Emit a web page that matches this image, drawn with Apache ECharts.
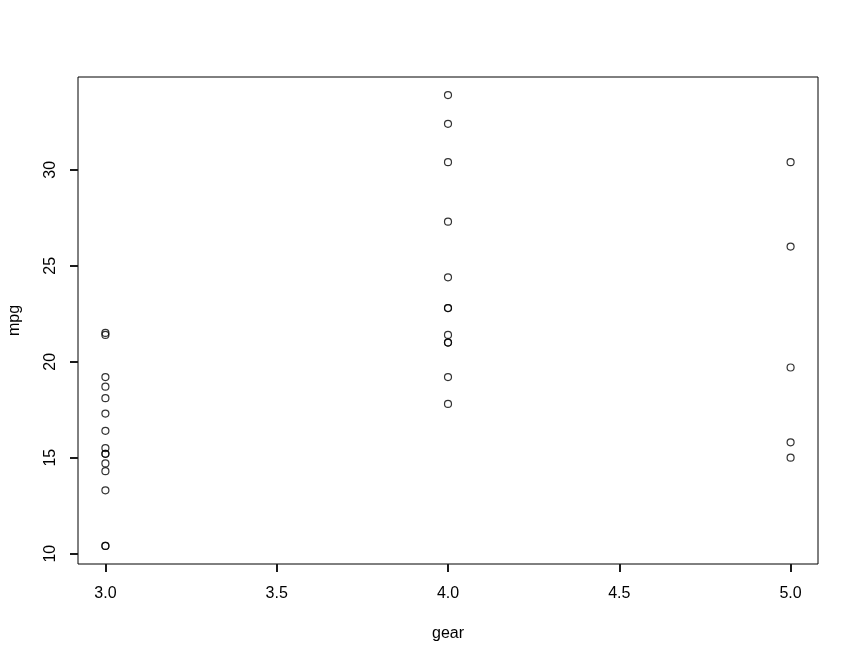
<!DOCTYPE html>
<html>
<head>
<meta charset="utf-8">
<script src="https://cdn.jsdelivr.net/npm/echarts@6/dist/echarts.min.js"></script>
<style>
  html, body { margin: 0; padding: 0; background: #fff; }
  #chart { width: 858px; height: 662px; }
</style>
</head>
<body>
<div id="chart"></div>
<script>
// mtcars: gear vs mpg
const gear = [4, 4, 4, 3, 3, 3, 3, 4, 4, 4, 4, 3, 3, 3, 3, 3, 3, 4, 4, 4, 3, 3, 3, 3, 3, 4, 5, 5, 5, 5, 5, 4];
const mpg = [21.0, 21.0, 22.8, 21.4, 18.7, 18.1, 14.3, 24.4, 22.8, 19.2, 17.8, 16.4, 17.3, 15.2, 10.4, 10.4,
    14.7, 32.4, 30.4, 33.9, 21.5, 15.5, 15.2, 13.3, 19.2, 27.3, 26.0, 30.4, 15.8, 19.7, 15.0, 21.4];
const xTicks = [3.0, 3.5, 4.0, 4.5, 5.0];
const yTicks = [10, 15, 20, 25, 30];

const points = gear.map((g, i) => [g, mpg[i]]);

const myChart = echarts.init(document.getElementById('chart'));
const font = 'Liberation Sans, Arial, sans-serif';
const tickStyle = { color: '#1a1a1a', width: 2 };
const option = {
    animation: false,
    grid: {
        left: 78,
        right: 40,
        top: 77,
        bottom: 98,
        containLabel: false,
        outerBoundsMode: 'none',
        show: true,
        borderColor: '#000',
        borderWidth: 1
    },
    xAxis: {
        type: 'value',
        min: 2.92,
        max: 5.08,
        name: 'gear',
        nameLocation: 'middle',
        nameGap: 62,
        nameTextStyle: { color: '#000', fontSize: 16, fontFamily: font },
        axisLine: { show: false },
        splitLine: { show: false },
        axisTick: { show: true, length: 8, customValues: xTicks, lineStyle: tickStyle },
        axisLabel: {
            customValues: xTicks,
            margin: 22,
            color: '#000',
            fontSize: 16,
            fontFamily: font,
            formatter: v => v.toFixed(1)
        }
    },
    yAxis: {
        type: 'value',
        min: 9.46,
        max: 34.84,
        name: 'mpg',
        nameLocation: 'middle',
        nameGap: 55,
        nameTextStyle: { color: '#000', fontSize: 16, fontFamily: font },
        axisLine: { show: false },
        splitLine: { show: false },
        axisTick: { show: true, length: 8, customValues: yTicks, lineStyle: tickStyle },
        axisLabel: {
            customValues: yTicks,
            rotate: 90,
            margin: 19,
            color: '#000',
            fontSize: 16,
            fontFamily: font
        }
    },
    series: [{
        type: 'scatter',
        data: points,
        symbol: 'circle',
        symbolSize: 7,
        itemStyle: { color: 'rgba(255,255,255,0)', borderColor: '#000', borderWidth: 1.2 }
    }]
};
myChart.setOption(option);
</script>
</body>
</html>
